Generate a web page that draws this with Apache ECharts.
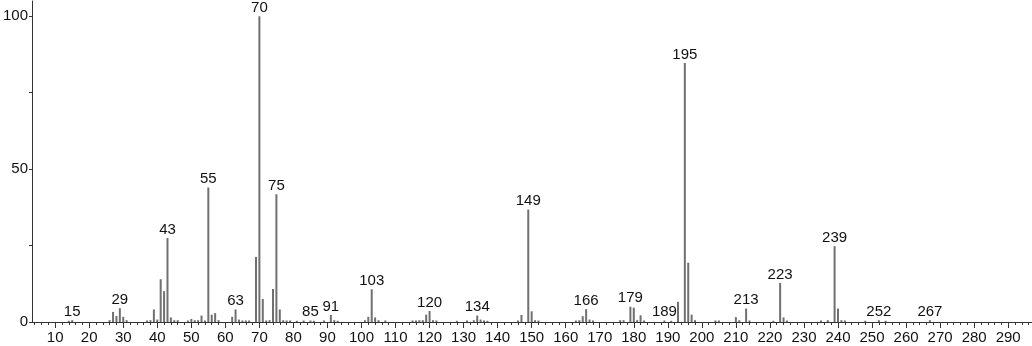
<!DOCTYPE html>
<html>
<head>
<meta charset="utf-8">
<script src="https://cdn.jsdelivr.net/npm/echarts@6/dist/echarts.min.js"></script>
<style>html,body{margin:0;padding:0;background:#fff}#c{width:1032px;height:346px}</style>
</head>
<body>
<div id="c"></div>
<script>
// m/z values and relative intensities
const mz = [14,15,26,27,28,29,30,31,37,38,39,40,41,42,43,44,45,46,49,50,51,52,53,54,55,56,57,58,62,63,64,65,66,67,69,70,71,72,73,74,75,76,77,78,79,81,83,85,86,89,91,92,93,101,102,103,104,105,107,115,116,117,118,119,120,121,122,128,131,133,134,135,136,137,146,147,149,150,151,152,163,164,165,166,167,168,176,177,179,180,181,182,183,189,191,193,195,196,197,198,204,205,210,211,213,214,221,223,224,225,235,237,239,240,241,242,248,252,254,267];
const intensity = [0.4,0.6,0.6,3.3,2.0,4.5,1.7,0.6,0.5,0.6,4.1,0.8,14.0,10.1,27.5,1.5,0.6,0.6,0.5,1.0,0.6,0.6,2.1,0.5,44.0,2.4,2.9,0.6,1.7,4.1,0.8,0.5,0.5,0.5,21.3,100,7.5,0.5,0.6,10.8,41.8,4.1,0.6,0.5,0.5,0.4,0.5,0.5,0.4,0.5,2.3,0.6,0.4,0.6,1.7,10.7,1.5,0.6,0.5,0.5,0.5,0.6,0.6,2.4,3.6,0.6,0.5,0.4,0.5,0.6,2.1,0.8,0.5,0.4,0.5,2.3,36.8,3.5,0.6,0.5,0.5,0.6,1.9,4.2,0.8,0.5,0.6,0.6,5.0,4.7,0.6,2.2,0.5,0.5,0.4,6.6,84.7,19.4,2.4,0.6,0.5,0.5,1.6,0.6,4.4,0.5,0.4,12.8,1.5,0.5,0.5,0.6,24.8,4.4,0.6,0.5,0.4,0.6,0.4,0.6];
const labeledPeaks = [15,29,43,55,63,70,75,85,91,103,120,134,149,166,179,189,195,213,223,239,252,267];
const xMajorTicks = [10,20,30,40,50,60,70,80,90,100,110,120,130,140,150,160,170,180,190,200,210,220,230,240,250,260,270,280,290];
const xMinorTicks = [];
for (let v = 4; v <= 296; v += 2) { if (v % 10 !== 0) xMinorTicks.push(v); }
const yLabels = [0,50,100];
const yTicks = [0,25,50,75,100];

const FONT = 'Liberation Sans';
const axisColor = '#333';
const data = mz.map((m, i) => {
  const item = { value: [m, intensity[i]] };
  if (labeledPeaks.includes(m)) item.label = { show: true };
  return item;
});

const chart = echarts.init(document.getElementById('c'), null, { renderer: 'canvas' });
chart.setOption({
  animation: false,
  grid: { left: 30, right: 0, top: 1, bottom: 24, containLabel: false },
  xAxis: [{
    type: 'value', min: 3.2, max: 297, position: 'bottom',
    axisLine: { show: true, lineStyle: { color: axisColor, width: 1 } },
    axisTick: { show: true, customValues: xMajorTicks, length: 6, inside: false, lineStyle: { color: axisColor } },
    axisLabel: { show: true, customValues: xMajorTicks, margin: 8, color: '#111', fontSize: 15, fontFamily: FONT },
    splitLine: { show: false }
  }, {
    type: 'value', min: 3.2, max: 297, position: 'bottom',
    axisLine: { show: false },
    axisTick: { show: true, customValues: xMinorTicks, length: 3, lineStyle: { color: axisColor } },
    axisLabel: { show: false },
    splitLine: { show: false }
  }],
  yAxis: {
    type: 'value', min: 0, max: 105,
    axisLine: { show: true, lineStyle: { color: axisColor, width: 1 } },
    axisTick: { show: true, customValues: yTicks, length: 3, lineStyle: { color: axisColor } },
    axisLabel: { show: true, customValues: yLabels, margin: 4, color: '#111', fontSize: 15, fontFamily: FONT },
    splitLine: { show: false }
  },
  series: [{
    type: 'bar', xAxisIndex: 0, barWidth: 2,
    itemStyle: { color: '#707070' },
    label: { show: false, position: 'top', distance: 1, color: '#111', fontSize: 15, fontFamily: FONT,
      formatter: p => String(p.value[0]) },
    data: data
  }]
});
</script>
</body>
</html>
